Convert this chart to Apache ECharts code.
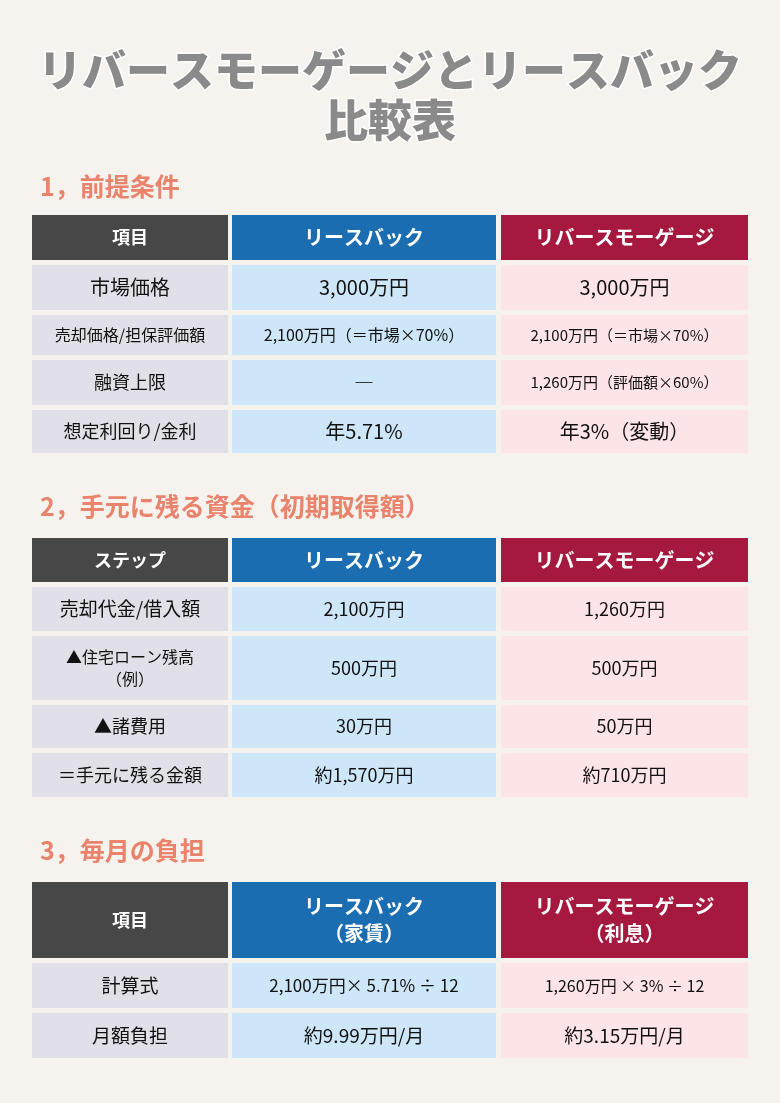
<!DOCTYPE html>
<html><head><meta charset="utf-8">
<script src="https://cdn.jsdelivr.net/npm/echarts@6/dist/echarts.min.js"></script>
<style>html,body{margin:0;padding:0;background:#f6f3ee}#main{width:780px;height:1103px}</style>
</head><body><div id="main"></div>
<script>
var titleLines = ['リバースモーゲージとリースバック', '比較表'];
var sectionTitles = ['1，前提条件', '2，手元に残る資金（初期取得額）', '3，毎月の負担'];
var headers = [
  ['項目', 'リースバック', 'リバースモーゲージ'],
  ['ステップ', 'リースバック', 'リバースモーゲージ'],
  ['項目', 'リースバック\n（家賃）', 'リバースモーゲージ\n（利息）']
];
var rows1 = [
  ['市場価格', '3,000万円', '3,000万円'],
  ['売却価格/担保評価額', '2,100万円（＝市場×70%）', '2,100万円（＝市場×70%）'],
  ['融資上限', '―', '1,260万円（評価額×60%）'],
  ['想定利回り/金利', '年5.71%', '年3%（変動）']
];
var rows2 = [
  ['売却代金/借入額', '2,100万円', '1,260万円'],
  ['▲住宅ローン残高\n（例）', '500万円', '500万円'],
  ['▲諸費用', '30万円', '50万円'],
  ['＝手元に残る金額', '約1,570万円', '約710万円']
];
var rows3 = [
  ['計算式', '2,100万円× 5.71% ÷ 12', '1,260万円 × 3% ÷ 12'],
  ['月額負担', '約9.99万円/月', '約3.15万円/月']
];
var sizes1 = [[20, 20, 20], [16, 16, 15], [18, 20, 15], [18, 20, 20]];
var sizes2 = [[19, 18, 18], [16, 18, 18], [18, 18, 18], [18, 18, 18]];
var sizes3 = [[19, 17, 16], [19, 19, 19]];

var chart = echarts.init(document.getElementById('main'));
var colX = [32, 232, 501], colW = [196, 264, 247];
var headFill = ['#474747', '#1a6db1', '#a6193f'];
var bodyFill = ['#e1e0e8', '#cde6f8', '#fde4e6'];
var FONT = '"Noto Sans CJK JP", sans-serif';
var els = [];

titleLines.forEach(function (t, i) {
  els.push({type: 'text', x: 390, y: 70 + i * 50, style: {
    text: t, x: 0, y: 0, align: 'center', verticalAlign: 'middle',
    font: '900 44px ' + FONT, fill: '#8a8a8a', stroke: '#ffffff', lineWidth: 3,
    shadowColor: 'rgba(0,0,0,0.6)', shadowBlur: 4, shadowOffsetX: 2, shadowOffsetY: 2}});
});

function cell(x, y, w, h, fill, text, size, color, bold) {
  els.push({type: 'rect', shape: {x: x, y: y, width: w, height: h}, style: {fill: fill}});
  els.push({type: 'text', x: x + w / 2, y: y + h / 2, style: {
    text: text, x: 0, y: 0, align: 'center', verticalAlign: 'middle', lineHeight: size * 1.35,
    font: (bold ? 'bold ' : '') + size + 'px ' + FONT, fill: color}});
}

function table(sec, titleY, top, headH, rows, rowH, sizes) {
  els.push({type: 'text', x: 40, y: titleY, style: {text: sectionTitles[sec], x: 0, y: 0,
    verticalAlign: 'middle', font: 'bold 25px ' + FONT, fill: '#e9836b'}});
  headers[sec].forEach(function (h, c) {
    cell(colX[c], top, colW[c], headH, headFill[c], h, c == 0 ? 18 : 20, '#fff', true);
  });
  var y = top + headH + 5;
  rows.forEach(function (r, i) {
    r.forEach(function (v, c) {
      cell(colX[c], y, colW[c], rowH[i], bodyFill[c], v, sizes[i][c], '#111', false);
    });
    y += rowH[i] + 5;
  });
}

table(0, 186, 215, 45, rows1, [45, 40, 45, 43], sizes1);
table(1, 506, 538, 44, rows2, [44, 64, 43, 44], sizes2);
table(2, 850, 882, 76, rows3, [45, 45], sizes3);

chart.setOption({backgroundColor: '#f6f3ee', graphic: {elements: els}});
</script></body></html>
